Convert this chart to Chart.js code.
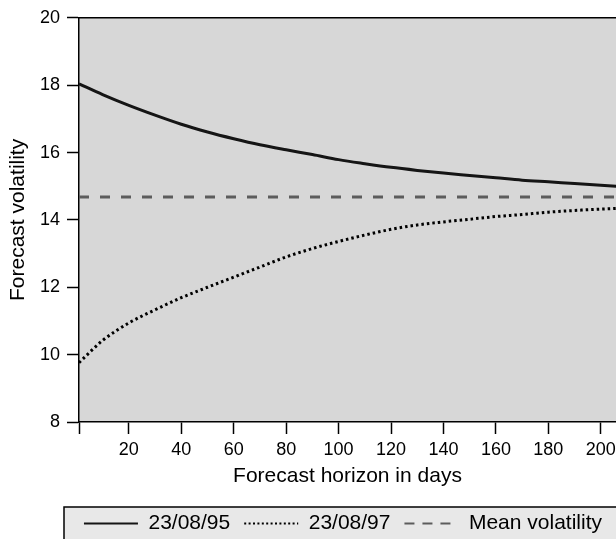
<!DOCTYPE html>
<html>
<head>
<meta charset="utf-8">
<style>
  html, body { margin: 0; padding: 0; background: #fff; overflow: hidden; }
  canvas { display: block; }
</style>
</head>
<body>
<canvas id="volChart" width="616" height="539"></canvas>
<script src="https://cdn.jsdelivr.net/npm/chart.js"></script>
<script>
    // forecast horizon (days) at which the curves were read
    const horizon = [1, 10, 20, 30, 40, 50, 60, 70, 80, 90, 100, 110, 120, 130, 140, 150, 160, 170, 180, 190, 200, 206];
    const vol950823 = [18.04, 17.72, 17.40, 17.11, 16.84, 16.61, 16.41, 16.23, 16.08, 15.94, 15.79, 15.67, 15.56, 15.47, 15.39, 15.32, 15.25, 15.18, 15.13, 15.08, 15.03, 15.00];
    const vol970823 = [9.76, 10.42, 10.94, 11.33, 11.69, 12.00, 12.30, 12.60, 12.90, 13.15, 13.36, 13.55, 13.72, 13.85, 13.94, 14.02, 14.10, 14.16, 14.23, 14.28, 14.32, 14.34];
    const meanVol = 14.68;
    const seriesNames = ['23/08/95', '23/08/97', 'Mean volatility'];
    const xTicks = [1, 20, 40, 60, 80, 100, 120, 140, 160, 180, 200];
    const yTicks = [8, 10, 12, 14, 16, 18, 20];

    const FONT = "'Liberation Sans', Arial, Helvetica, sans-serif";
    const legendDash = [[], [2, 2.4], [10, 8]];

    const toPts = ys => horizon.map((x, i) => ({x: x, y: ys[i]}));

    // grey plot area, top frame line and the boxed legend
    const framePlugin = {
        id: 'frame',
        beforeDraw(chart) {
            const {ctx, chartArea: a} = chart;
            ctx.save();
            ctx.fillStyle = '#d7d7d7';
            ctx.fillRect(a.left, a.top, a.right - a.left + 5, a.bottom - a.top);
            ctx.fillStyle = '#e8e8e8';
            ctx.fillRect(64, 507, 600, 60);
            ctx.strokeStyle = '#000';
            ctx.lineWidth = 1.5;
            ctx.strokeRect(64, 507, 600, 60);
            ctx.restore();
        },
        afterDraw(chart) {
            const {ctx, chartArea: a} = chart;
            ctx.save();
            ctx.strokeStyle = '#000';
            ctx.lineWidth = 1.5;
            ctx.beginPath();
            ctx.moveTo(a.left, a.top);
            ctx.lineTo(a.right + 5, a.top);
            ctx.stroke();
            ctx.restore();
        }
    };

    const ctx = document.getElementById('volChart').getContext('2d');
    const volChart = new Chart(ctx, {
        type: 'line',
        data: {
            datasets: [{
                label: seriesNames[0],
                data: toPts(vol950823),
                borderColor: '#151515',
                borderWidth: 3,
                pointRadius: 0,
                cubicInterpolationMode: 'monotone'
            }, {
                label: seriesNames[1],
                data: toPts(vol970823),
                borderColor: '#000',
                borderWidth: 3,
                borderDash: [2.5, 3],
                pointRadius: 0,
                cubicInterpolationMode: 'monotone'
            }, {
                label: seriesNames[2],
                data: [{x: horizon[0], y: meanVol}, {x: horizon[horizon.length - 1], y: meanVol}],
                borderColor: '#5c5c5c',
                borderWidth: 3,
                borderDash: [10, 11],
                pointRadius: 0
            }]
        },
        options: {
            responsive: false,
            animation: false,
            layout: { padding: { left: 0, right: 0, top: 14, bottom: -5 } },
            plugins: {
                tooltip: { enabled: false },
                legend: {
                    position: 'bottom',
                    align: 'end',
                    labels: {
                        usePointStyle: true,
                        pointStyle: 'line',
                        pointStyleWidth: 54,
                        boxHeight: 10,
                        padding: 14,
                        color: '#000',
                        font: { family: FONT, size: 21 },
                        generateLabels: chart => Chart.defaults.plugins.legend.labels.generateLabels(chart).map((it, i) => ({
                            ...it,
                            strokeStyle: chart.data.datasets[i].borderColor,
                            lineWidth: 2,
                            lineDash: legendDash[i],
                            lineCap: 'butt'
                        }))
                    }
                }
            },
            scales: {
                x: {
                    type: 'linear',
                    min: 1,
                    max: 205.8,
                    afterFit: s => { s.height = 77; s.paddingRight = 0; s.paddingLeft = 0; },
                    afterBuildTicks: s => { s.ticks = xTicks.map(v => ({value: v})); },
                    grid: { drawOnChartArea: false, tickLength: 12, tickColor: '#000', tickWidth: 1.5 },
                    border: { color: '#000', width: 1.5 },
                    ticks: {
                        color: '#000',
                        padding: 5,
                        maxRotation: 0,
                        autoSkip: false,
                        font: { family: FONT, size: 18 },
                        callback: v => (v === 1 ? '' : v)
                    },
                    title: {
                        display: true,
                        text: 'Forecast horizon in days',
                        color: '#000',
                        padding: { top: 0, bottom: 10 },
                        font: { family: FONT, size: 21 }
                    }
                },
                y: {
                    min: 8,
                    max: 20,
                    afterFit: s => { s.width = 79; },
                    afterBuildTicks: s => { s.ticks = yTicks.map(v => ({value: v})); },
                    grid: { drawOnChartArea: false, tickLength: 12, tickColor: '#000', tickWidth: 1.5 },
                    border: { color: '#000', width: 1.5 },
                    ticks: {
                        color: '#000',
                        padding: 7,
                        font: { family: FONT, size: 18 }
                    },
                    title: {
                        display: true,
                        text: 'Forecast volatility',
                        color: '#000',
                        padding: { top: 6, bottom: 0 },
                        font: { family: FONT, size: 21 }
                    }
                }
            }
        },
        plugins: [framePlugin]
    });
</script>
</body>
</html>
